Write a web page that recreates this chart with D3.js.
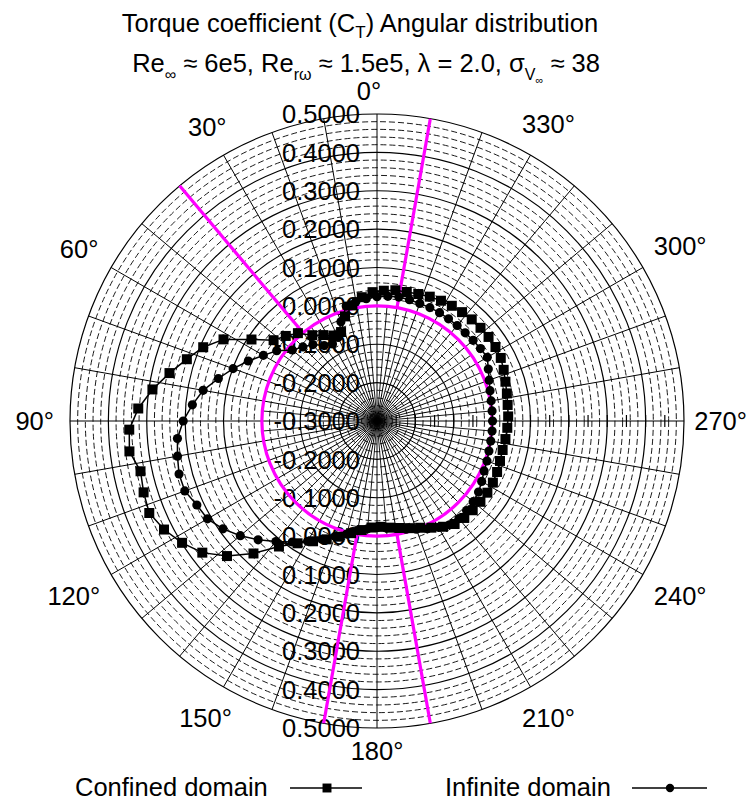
<!DOCTYPE html>
<html><head><meta charset="utf-8">
<script src="https://cdn.jsdelivr.net/npm/d3@7"></script>
<style>
body{margin:0;background:#fff;}
svg text{font-family:"Liberation Sans",Arial,Helvetica,sans-serif;fill:#000;}
</style></head>
<body><svg id="c" width="751" height="803"></svg>
<script>
// ---- data ----
const infiniteAngles = d3.range(0, 360, 5);
const infiniteValues = [
 0.024,0.020,0.016,0.010,-0.025,-0.060,-0.068,-0.060,-0.040,-0.027,-0.012,0.019,
 0.042,0.070,0.099,0.128,0.160,0.183,0.205,0.222,0.228,0.234,0.233,0.218,
 0.210,0.190,0.165,0.138,0.110,0.085,0.062,0.040,0.020,0.005,-0.010,-0.018,
 -0.022,-0.020,-0.016,-0.008,0.000,0.010,0.020,0.030,0.032,0.030,0.027,0.023,
 0.015,0.008,0.005,0.002,0.001,0.001,0.001,0.001,0.002,0.005,0.011,0.020,
 0.032,0.029,0.027,0.025,0.025,0.025,0.026,0.026,0.026,0.027,0.028,0.026];
const confinedAngles = d3.range(2, 360, 5);
const confinedValues = [
 0.036,0.025,0.008,-0.015,-0.050,-0.050,-0.036,-0.020,0.008,0.025,0.042,0.090,
 0.153,0.192,0.221,0.255,0.291,0.323,0.346,0.350,0.330,0.336,0.340,0.323,
 0.299,0.270,0.226,0.172,0.115,0.080,0.055,0.035,0.017,0.000,-0.013,-0.022,
 -0.024,-0.020,-0.015,-0.008,0.000,0.012,0.025,0.036,0.040,0.041,0.042,0.043,
 0.042,0.040,0.037,0.036,0.038,0.040,0.042,0.043,0.046,0.050,0.056,0.062,
 0.064,0.064,0.063,0.062,0.060,0.058,0.055,0.052,0.048,0.045,0.044,0.040];
const radialTicks = [-0.3,-0.2,-0.1,0.0,0.1,0.2,0.3,0.4,0.5];
const angleTicks = [0,30,60,90,120,150,180,210,240,270,300,330];
const referenceCircleValue = 0.0;
const referenceLineAngles = [40,170,190,350];
const seriesNames = ["Confined domain","Infinite domain"];

// ---- layout ----
const svg = d3.select("#c");
const W = 751;
const cx = 377, cy = 421, R = 307;
const r = d3.scaleLinear().domain([-0.3, 0.5]).range([0, R]);
const rad = a => a * Math.PI / 180;
const px = (a, v) => cx - r(v) * Math.sin(rad(a));
const py = (a, v) => cy - r(v) * Math.cos(rad(a));

const g = svg.append("g");
// dashed minor circles
const minor = d3.range(-28, 50, 2).filter(k => k % 10 !== 0).map(k => k / 100);
g.selectAll(".minor").data(minor).join("circle")
 .attr("cx", cx).attr("cy", cy).attr("r", d => r(d))
 .attr("fill","none").attr("stroke","#1a1a1a").attr("stroke-width",1)
 .attr("stroke-dasharray","6,3");
// spokes: every 5deg inner, every 10deg full
g.selectAll(".sp5").data(d3.range(0,360,5).filter(a => a % 10 !== 0)).join("line")
 .attr("x1",cx).attr("y1",cy).attr("x2",d=>px(d,0)).attr("y2",d=>py(d,0))
 .attr("stroke","#000").attr("stroke-width",0.9);
g.selectAll(".sp10").data(d3.range(0,360,10)).join("line")
 .attr("x1",cx).attr("y1",cy).attr("x2",d=>px(d,0.5)).attr("y2",d=>py(d,0.5))
 .attr("stroke","#000").attr("stroke-width",1);
// solid circles
g.selectAll(".major").data(radialTicks.slice(1)).join("circle")
 .attr("cx", cx).attr("cy", cy).attr("r", d => r(d))
 .attr("fill","none").attr("stroke","#000").attr("stroke-width",1.2);
// small ticks on 270 axis
g.selectAll(".tk").data(d3.range(-25, 50, 5).map(k=>k/100)).join("line")
 .attr("x1",d=>px(270,d)).attr("x2",d=>px(270,d)).attr("y1",cy-6).attr("y2",cy+6)
 .attr("stroke","#000").attr("stroke-width",1.2);

// radial labels
const lab = svg.append("g").style("font-size","25.5px").attr("text-anchor","end");
radialTicks.forEach(v => {
  lab.append("text").attr("x",360).attr("y",cy - r(v)).attr("dy","0.36em").text(v.toFixed(4));
  if (v > -0.3) lab.append("text").attr("x",360).attr("y",cy + r(v)).attr("dy","0.36em").text(v.toFixed(4));
});

// magenta reference
const mg = svg.append("g").attr("stroke","#ff00ff").attr("stroke-width",3.2).attr("fill","none");
mg.append("circle").attr("cx",cx).attr("cy",cy).attr("r",r(referenceCircleValue));
mg.selectAll("line").data(referenceLineAngles).join("line")
 .attr("x1",d=>px(d,referenceCircleValue)).attr("y1",d=>py(d,referenceCircleValue))
 .attr("x2",d=>px(d,0.5)).attr("y2",d=>py(d,0.5));

// series
function drawSeries(angles, values, shape){
  const data = angles.map((a,i)=>({a, v: values[i]}));
  const line = d3.lineRadial().angle(d => -rad(d.a)).radius(d => r(d.v)).curve(d3.curveLinearClosed);
  const sg = svg.append("g").attr("transform",`translate(${cx},${cy})`);
  sg.append("path").attr("d", line(data)).attr("fill","none").attr("stroke","#000").attr("stroke-width",1.5);
  sg.selectAll("path.m").data(data).join("path").attr("class","m")
    .attr("transform", d => `translate(${px(d.a,d.v)-cx},${py(d.a,d.v)-cy})`)
    .attr("d", shape).attr("fill","#000");
}
const sq = d3.symbol(d3.symbolSquare, 100)();
const ci = d3.symbol(d3.symbolCircle, 66)();
drawSeries(confinedAngles, confinedValues, sq);
drawSeries(infiniteAngles, infiniteValues, ci);

// angle labels
const al = svg.append("g").style("font-size","25.5px").attr("text-anchor","middle");
angleTicks.forEach(a => {
  const t = al.append("text").attr("dy","0.36em").text(a + "°");
  const hw = t.node().getComputedTextLength()/2;
  const dist = R + 14 + Math.abs(Math.sin(rad(a)))*(hw+2) + Math.abs(Math.cos(rad(a)))*9;
  const shift = a === 0 ? -8 : 0;
  let x = cx - dist*Math.sin(rad(a)) + shift;
  x = Math.min(x, W - 4 - hw);
  x = Math.max(x, 4 + hw);
  t.attr("x", x).attr("y", cy - dist*Math.cos(rad(a)));
});

// titles
svg.append("text").attr("x",360).attr("y",32).attr("text-anchor","middle").style("font-size","25.5px")
 .html('Torque coefficient (C<tspan dy="6" font-size="17">T</tspan><tspan dy="-6">) Angular distribution</tspan>');
svg.append("text").attr("x",366).attr("y",72).attr("text-anchor","middle").style("font-size","25.5px")
 .html('Re<tspan dy="8" font-size="16">∞</tspan><tspan dy="-8"> ≈ 6e5, Re</tspan><tspan dy="8" font-size="16">rω</tspan><tspan dy="-8"> ≈ 1.5e5, λ = 2.0, σ</tspan><tspan dy="8" font-size="16">V</tspan><tspan dy="4" font-size="11">∞</tspan><tspan dy="-12"> ≈ 38</tspan>');

// legend
const lg = svg.append("g").style("font-size","25.5px");
lg.append("text").attr("x",75).attr("y",796).text(seriesNames[0]);
lg.append("line").attr("x1",290).attr("x2",362).attr("y1",788).attr("y2",788).attr("stroke","#000").attr("stroke-width",1.5);
lg.append("path").attr("transform","translate(327,788)").attr("d",d3.symbol(d3.symbolSquare,80)());
lg.append("text").attr("x",445).attr("y",796).text(seriesNames[1]);
lg.append("line").attr("x1",632).attr("x2",707).attr("y1",788).attr("y2",788).attr("stroke","#000").attr("stroke-width",1.5);
lg.append("path").attr("transform","translate(670,788)").attr("d",d3.symbol(d3.symbolCircle,55)());
</script></body></html>
